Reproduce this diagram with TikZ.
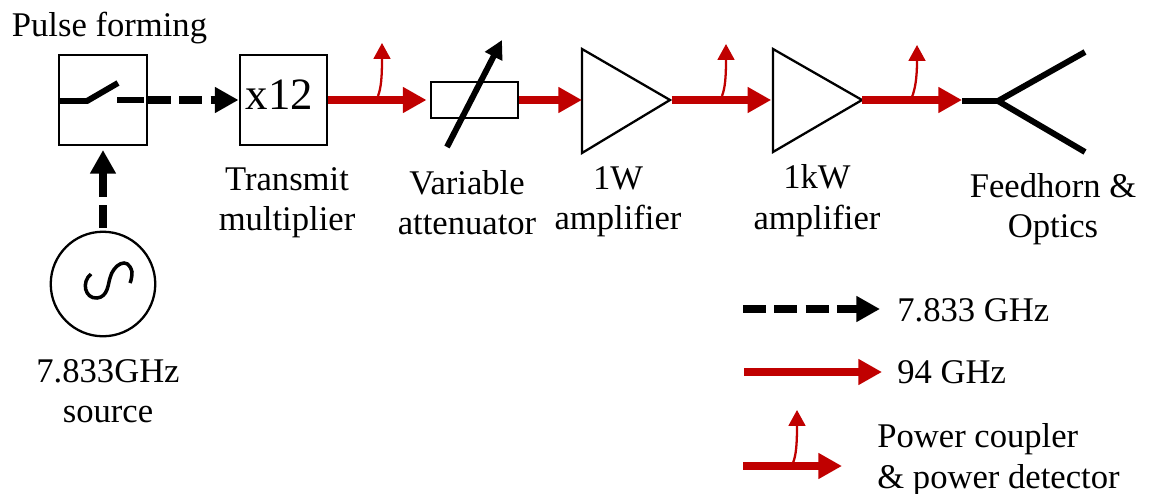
\documentclass[tikz,border=0pt]{standalone}
\usepackage{fontspec}
\setmainfont{Liberation Serif}
\usetikzlibrary{arrows.meta}
\definecolor{rfred}{RGB}{192,0,0}
\tikzset{
	lbl/.style={inner sep=0pt,align=center,font=\fontsize{19.7}{23}\selectfont},
	block/.style={draw,line width=1.3pt,inner sep=0pt,minimum width=49.9pt,minimum height=51.6pt},
	amp/.style={draw,line width=1.3pt},
	lo/.style={line width=4.7pt,dash pattern=on 13.2pt off 4.6pt,-{Triangle[length=13.5pt,width=14pt]}},
	hf/.style={rfred,line width=4.5pt,-{Triangle[length=13.5pt,width=14pt]}},
	tap/.style={rfred,line width=1.3pt,-{Triangle[length=9pt,width=9.5pt]}},
	thick line/.style={line width=3.4pt}
}
\begin{document}
\begin{tikzpicture}[x=0.02cm,y=-0.02cm]
	\useasboundingbox (0,0) rectangle (1151,493);
	\node[lbl](pulse) at (109.5,28) {Pulse forming};
	\node[block](sw) at (103,100) {};
	\node[block](mult) at (283.5,100) {};
	\node[lbl,font=\fontsize{25.5}{25.5}\selectfont](multval) at (279.5,95) {x12};
	\node[draw,line width=1.3pt,minimum width=49.3pt,minimum height=20.4pt,inner sep=0pt](att) at (474.5,100) {};
	\node[draw,circle,line width=1.3pt,minimum size=59.5pt,inner sep=0pt](src) at (103,284) {};
	\coordinate (ampa1) at (582,49);
	\coordinate (ampa2) at (582,153);
	\coordinate (ampa3) at (670,100);
	\coordinate (ampb1) at (773,49);
	\coordinate (ampb2) at (773,152);
	\coordinate (ampb3) at (862,100);
	\draw[amp] (ampa1)--(ampa2)--(ampa3)--cycle;
	\draw[amp] (ampb1)--(ampb2)--(ampb3)--cycle;
	% switch
	\coordinate (swa) at (60,101);
	\coordinate (swb) at (87,101);
	\coordinate (swc) at (118,83);
	\coordinate (swd) at (117,100);
	\coordinate (swe) at (144,100);
	\draw[thick line] (swa)--(swb)--(swc);
	\draw[thick line] (swd)--(swe);
	% dashed inputs
	\draw[lo] (sw.east)--(mult.west);
	\draw[lo,shorten >=2pt,shorten <=1.5pt] (src.north)--(sw.south);
	% red path
	\coordinate (horn) at (962,100);
	\draw[hf,shorten >=2pt] (mult.east)--(att.west);
	\draw[hf] (att.east)--(ampa3-|ampa1);
	\draw[hf,shorten <=1pt,shorten >=1pt] (ampa3)--(ampb3-|ampb1);
	\draw[hf] (ampb3)--(horn);
	% couplers
	\coordinate (ta) at (378,96);
	\coordinate (tb) at (722,96);
	\coordinate (tc) at (912,97);
	\coordinate (tad) at (382,43);
	\coordinate (tbd) at (726,44);
	\coordinate (tcd) at (917,45);
	\draw[tap] (ta) .. controls (381,88) and (382,78) .. (tad);
	\draw[tap] (tb) .. controls (725,88) and (726,78) .. (tbd);
	\draw[tap] (tc) .. controls (915,89) and (917,79) .. (tcd);
	% attenuator arrow
	\coordinate (atta) at (447,147);
	\coordinate (attb) at (502,40);
	\draw[line width=3.4pt,-{Triangle[length=10.5pt,width=10.5pt]}] (atta)--(attb);
	% feedhorn
	\coordinate (fb) at (998,101);
	\coordinate (fc) at (1085,52);
	\coordinate (fd) at (1085,152);
	\draw[thick line] (horn|-fb)--(fb)--(fc);
	\draw[thick line] (fb)--(fd);
	% source symbol
	\draw[line width=2pt] (91,274) .. controls (81,282) and (85,299) .. (97,298) .. controls (108,297) and (108,284) .. (110,278) .. controls (113,265) and (128,255) .. (132,272) .. controls (132,277) and (131,281) .. (130,283);
	% labels
	\node[lbl](mulbl) at (287,203) {Transmit\\multiplier};
	\node[lbl](attlbl) at (467,202.5) {Variable\\attenuator};
	\node[lbl](ampalbl) at (618,202) {1W\\amplifier};
	\node[lbl](ampblbl) at (817,200.5) {1kW\\amplifier};
	\node[lbl](hornlbl) at (1053,209) {Feedhorn \&\\Optics};
	\node[lbl](srclbl) at (108,391) {7.833GHz\\source};
	% legend
	\coordinate (la) at (743,309);
	\coordinate (lb) at (880,309);
	\coordinate (lc) at (744,372);
	\coordinate (ld) at (882,372);
	\coordinate (le) at (743,466);
	\coordinate (lf) at (842,466);
	\coordinate (lg) at (793,463);
	\coordinate (lh) at (797,410);
	\draw[lo] (la)--(lb);
	\draw[hf] (lc)--(ld);
	\draw[hf] (le)--(lf);
	\draw[tap] (lg) .. controls (796,455) and (797,445) .. (lh);
	\node[lbl,anchor=west](lolbl) at (897,310) {7.833 GHz};
	\node[lbl,anchor=west](hflbl) at (897,372) {94 GHz};
	\node[lbl,anchor=west,align=left](taplbl) at (877,459.5) {Power coupler\\\& power detector};
\end{tikzpicture}
\end{document}
